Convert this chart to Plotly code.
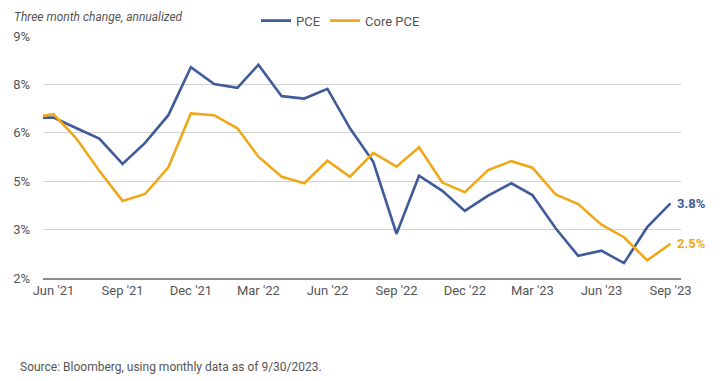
import plotly.graph_objects as go

months = ["2021-05-01", "2021-06-01", "2021-07-01", "2021-08-01", "2021-09-01", "2021-10-01",
          "2021-11-01", "2021-12-01", "2022-01-01", "2022-02-01", "2022-03-01", "2022-04-01",
          "2022-05-01", "2022-06-01", "2022-07-01", "2022-08-01", "2022-09-01", "2022-10-01",
          "2022-11-01", "2022-12-01", "2023-01-01", "2023-02-01", "2023-03-01", "2023-04-01",
          "2023-05-01", "2023-06-01", "2023-07-01", "2023-08-01", "2023-09-01"]

pce = [6.64, 6.64, 6.34, 6.03, 5.30, 5.91, 6.71, 8.10, 7.61, 7.50, 8.17, 7.26,
       7.19, 7.47, 6.33, 5.36, 3.28, 4.96, 4.52, 3.94, 4.38, 4.74, 4.40, 3.44,
       2.64, 2.79, 2.43, 3.47, 4.16]

core_pce = [6.63, 6.74, 6.05, 5.10, 4.23, 4.43, 5.20, 6.76, 6.71, 6.33, 5.51, 4.93,
            4.74, 5.39, 4.93, 5.62, 5.22, 5.78, 4.76, 4.48, 5.12, 5.38, 5.19, 4.42,
            4.14, 3.54, 3.18, 2.51, 2.99]

series_names = ["PCE", "Core PCE"]
end_labels = ["3.8%", "2.5%"]

x_tickvals = ["2021-06-01", "2021-09-01", "2021-12-01", "2022-03-01", "2022-06-01",
              "2022-09-01", "2022-12-01", "2023-03-01", "2023-06-01", "2023-09-01"]
x_ticktext = ["Jun '21", "Sep '21", "Dec '21", "Mar '22", "Jun '22",
              "Sep '22", "Dec '22", "Mar '23", "Jun '23", "Sep '23"]

y_tickvals = [2, 3.4, 4.8, 6.2, 7.6, 9]
y_ticktext = ["2%", "3%", "5%", "6%", "8%", "9%"]

blue = "#3F5B9A"
orange = "#EEA819"
gray_text = "#555555"
font_family = "Roboto, 'Liberation Sans', Arial, sans-serif"

fig = go.Figure()
for name, vals, col in [(series_names[0], pce, blue), (series_names[1], core_pce, orange)]:
    fig.add_trace(go.Scatter(x=months, y=vals, mode="lines", name=name,
                             line=dict(color=col, width=2.6), hoverinfo="skip"))

for lbl, vals, col in [(end_labels[0], pce, blue), (end_labels[1], core_pce, orange)]:
    fig.add_annotation(x=months[-1], y=vals[-1], text="<b>" + lbl + "</b>",
                       showarrow=False, xanchor="left", yanchor="middle", xshift=5,
                       font=dict(color=col, size=13, family=font_family))

fig.add_annotation(xref="paper", yref="paper", x=-43/638, y=1 + (36 - 17) / 242,
                   xanchor="left", yanchor="middle", xshift=12,
                   text="<i>Three month change, annualized</i>", showarrow=False,
                   font=dict(color=gray_text, size=12, family=font_family))

fig.add_annotation(xref="paper", yref="paper", x=-43/638, y=-(367 - 278) / 242,
                   xanchor="left", yanchor="middle", xshift=18,
                   text="Source: Bloomberg, using monthly data as of 9/30/2023.", showarrow=False,
                   font=dict(color=gray_text, size=12, family=font_family))

fig.update_layout(
    width=720, height=381,
    margin=dict(l=43, r=39, t=36, b=103, autoexpand=False),
    paper_bgcolor="white", plot_bgcolor="white",
    font=dict(family=font_family, color=gray_text, size=13),
    showlegend=True,
    legend=dict(orientation="h", xref="container", yref="container",
                x=256 / 720, y=1 - 20.7 / 381,
                xanchor="left", yanchor="middle", bgcolor="rgba(0,0,0,0)",
                font=dict(size=13, color=gray_text), itemwidth=30,
                tracegroupgap=0),
    xaxis=dict(type="date", range=["2021-05-18", "2023-09-15"],
               tickvals=x_tickvals, ticktext=x_ticktext, showgrid=False,
               showline=True, linecolor="#8c8c8c", linewidth=1.6, ticks="",
               tickfont=dict(size=13, color=gray_text), zeroline=False),
    yaxis=dict(range=[2, 9], tickvals=y_tickvals, ticktext=y_ticktext,
               showgrid=True, gridcolor="#d3d3d3", gridwidth=1, zeroline=False,
               ticks="", ticklabelstandoff=12,
               tickfont=dict(size=13, color=gray_text)),
)

fig.write_html("out.html")
